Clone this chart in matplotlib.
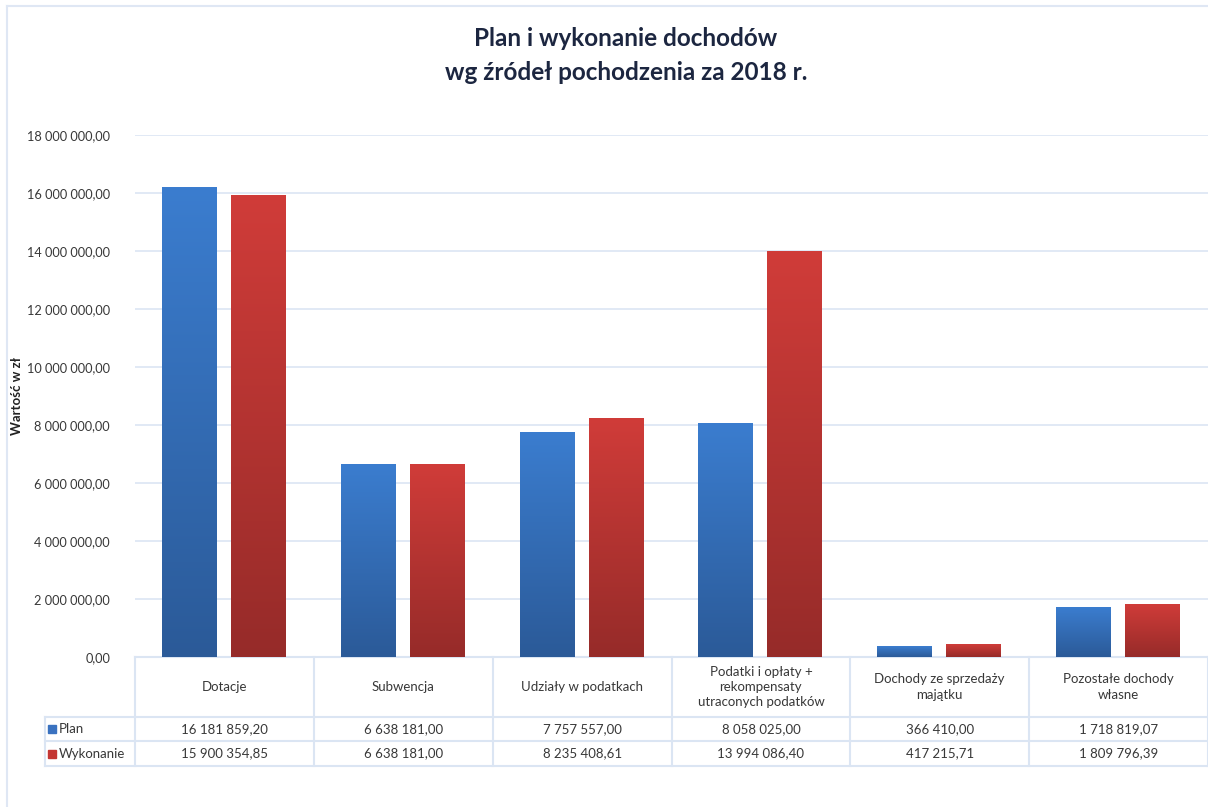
import matplotlib
matplotlib.use('Agg')
import matplotlib.pyplot as plt
import numpy as np
from matplotlib.colors import LinearSegmentedColormap
from matplotlib.patches import Rectangle

plt.rcParams['font.family'] = ['Lato', 'DejaVu Sans']

categories = ['Dotacje', 'Subwencja', 'Udziały w podatkach',
              'Podatki i opłaty +\nrekompensaty\nutraconych podatków',
              'Dochody ze sprzedaży\nmajątku', 'Pozostałe dochody\nwłasne']
plan = [16181859.20, 6638181.00, 7757557.00, 8058025.00, 366410.00, 1718819.07]
wykonanie = [15900354.85, 6638181.00, 8235408.61, 13994086.40, 417215.71, 1809796.39]
series_names = ['Plan', 'Wykonanie']
yticks = np.arange(0, 18000001, 2000000)

W, H = 1208, 807
text_col = '#383838'
grid_col = '#dbe5f3'
blue_cmap = LinearSegmentedColormap.from_list('b', ['#2b5a98', '#3b7dcf'])
red_cmap = LinearSegmentedColormap.from_list('r', ['#962b29', '#d03c39'])
key_cols = ['#3a72c0', '#c43633']


def fmt(v):
    return f'{v:,.2f}'.replace(',', ' ').replace('.', ',')


fig = plt.figure(figsize=(W / 100, H / 100), dpi=100)

# overlay in pixel coords for frame + table
ov = fig.add_axes([0, 0, 1, 1])
ov.set_xlim(0, W)
ov.set_ylim(H, 0)
ov.axis('off')

# main chart area
left, right, top, bottom = 135, 1208, 135, 657
ax = fig.add_axes([left / W, 1 - bottom / H, (right - left) / W, (bottom - top) / H])
ax.set_xlim(0, len(categories))
ax.set_ylim(0, 18000000)
ax.set_yticks(yticks)
ax.set_yticklabels([fmt(v) for v in yticks], fontsize=9.2, color=text_col)
ax.tick_params(axis='y', length=0, pad=18)
ax.set_xticks([])
for s in ax.spines.values():
    s.set_visible(False)
ax.grid(axis='y', color=grid_col, lw=1.2)
ax.set_axisbelow(True)
ax.patch.set_alpha(0)

grad = np.linspace(0, 1, 256).reshape(-1, 1)
bw = 0.307
offs = [-0.196, 0.19]
for i in range(len(categories)):
    for vals, off, cmap in [(plan, offs[0], blue_cmap), (wykonanie, offs[1], red_cmap)]:
        x0 = i + 0.5 + off - bw / 2
        ax.imshow(grad, extent=[x0, x0 + bw, 0, vals[i]], origin='lower', aspect='auto',
                  cmap=cmap, zorder=2)
ax.set_xlim(0, len(categories))
ax.set_ylim(0, 18000000)

ax.set_ylabel('Wartość w zł', fontsize=9.5, fontweight='bold', color='#222222')
ax.yaxis.set_label_coords(-112 / (right - left), 0.5)

# frame of the chart
ov.plot([7, 7], [6, H], color='#dfe7f4', lw=1.5)
ov.plot([7, W], [6, 6], color='#dfe7f4', lw=1.5)

# title
fig.text(626 / W, 1 - 38 / H, 'Plan i wykonanie dochodów', ha='center', va='center',
         fontsize=17.5, fontweight='bold', color='#1c2640')
fig.text(626 / W, 1 - 72 / H, 'wg źródeł pochodzenia za 2018 r.', ha='center', va='center',
         fontsize=17.5, fontweight='bold', color='#1c2640')

# data table
tcol = '#dbe5f3'
row_y = [657, 717, 741, 766]
col_w = (right - left) / len(categories)
ov.plot([left, right], [row_y[0], row_y[0]], color=tcol, lw=1.5)
for y in row_y[1:]:
    ov.plot([45, right], [y, y], color=tcol, lw=1.5)
ov.plot([45, 45], [row_y[1], row_y[3]], color=tcol, lw=1.5)
for k in range(len(categories) + 1):
    x = left + k * col_w
    ov.plot([x, x], [row_y[0], row_y[3]], color=tcol, lw=1.5)

for k, cat in enumerate(categories):
    cx = left + (k + 0.5) * col_w
    ov.text(cx, (row_y[0] + row_y[1]) / 2, cat, ha='center', va='center',
            fontsize=9.5, color=text_col, linespacing=1.35)
    ov.text(cx, (row_y[1] + row_y[2]) / 2, fmt(plan[k]), ha='center', va='center',
            fontsize=9.5, color=text_col)
    ov.text(cx, (row_y[2] + row_y[3]) / 2, fmt(wykonanie[k]), ha='center', va='center',
            fontsize=9.5, color=text_col)

for r, (name, c) in enumerate(zip(series_names, key_cols)):
    yc = (row_y[r + 1] + row_y[r + 2]) / 2
    ov.add_patch(Rectangle((48, yc - 4), 8, 8, color=c))
    ov.text(59, yc, name, ha='left', va='center', fontsize=9.5, color=text_col)

fig.savefig('out.png', dpi=100)
